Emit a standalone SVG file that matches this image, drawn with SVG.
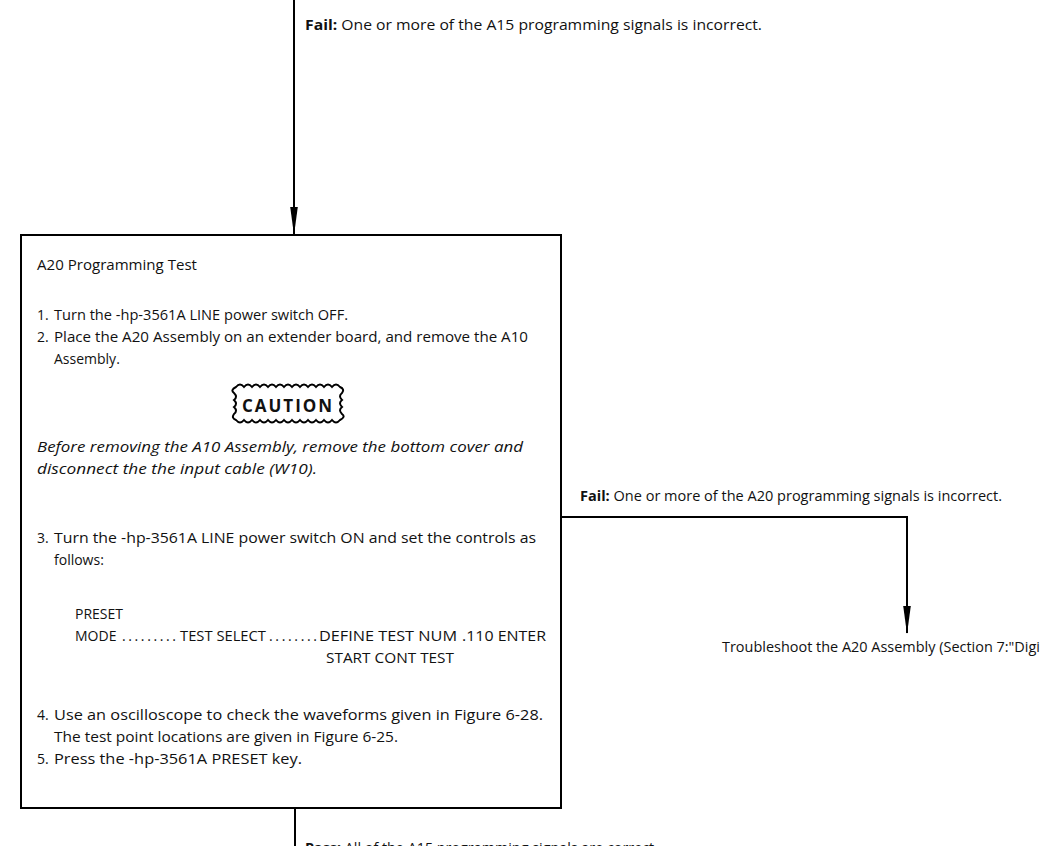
<svg xmlns="http://www.w3.org/2000/svg" width="1042" height="846" viewBox="0 0 1042 846">
<defs>
<marker id="arr" markerWidth="28" markerHeight="10" refX="27" refY="5" orient="auto" markerUnits="userSpaceOnUse" viewBox="0 0 28 10">
<path d="M0,1.2 L28,5 L0,8.8 Z" fill="#000"/>
</marker>
<style>
text{font-family:"Open Sans",Lato,"Liberation Sans",sans-serif;font-size:14px;fill:#111}
.b{font-weight:bold}
.i{font-style:italic}
.cau{font-weight:bold;font-size:17px;letter-spacing:2px}
.ln{fill:none;stroke:#000;stroke-width:2}
</style>
</defs>
<rect width="1042" height="846" fill="#fff"/>
<g id="connectors">
<path class="ln" d="M294,0 V234" marker-end="url(#arr)"/>
<path class="ln" d="M562,517 H907 V633" marker-end="url(#arr)"/>
<path class="ln" d="M295,808 V846"/>
</g>
<g id="label-fail-a15">
<text x="305" y="30" textLength="457" lengthAdjust="spacingAndGlyphs"><tspan class="b">Fail:</tspan> One or more of the A15 programming signals is incorrect.</text>
</g>
<g id="node-a20-test">
<rect x="21" y="235" width="540" height="573" fill="#fff" stroke="#000" stroke-width="2"/>
<text x="37" y="270" textLength="160" lengthAdjust="spacingAndGlyphs">A20 Programming Test</text>
<text x="37" y="320">1.</text><text x="54" y="320" textLength="294" lengthAdjust="spacingAndGlyphs">Turn the -hp-3561A LINE power switch OFF.</text>
<text x="37" y="342">2.</text><text x="54" y="342" textLength="474" lengthAdjust="spacingAndGlyphs">Place the A20 Assembly on an extender board, and remove the A10</text>
<text x="54" y="364">Assembly.</text>
<g id="caution">
<path class="ln" stroke-width="1.6" d="M236,387 q4,-5 8,0 q4,-5 8,0 q4,-5 8,0 q4,-5 8,0 q4,-5 8,0 q4,-5 8,0 q4,-5 8,0 q4,-5 8,0 q4,-5 8,0 q4,-5 8,0 q4,-5 8,0 q4,-5 8,0 q4,-5 8,0 q5,2 2,6 q-4,3 0,7 q-4,3 0,7 q-4,3 0,7 q4,3 -2,6 q-4,5 -8,0 q-4,5 -8,0 q-4,5 -8,0 q-4,5 -8,0 q-4,5 -8,0 q-4,5 -8,0 q-4,5 -8,0 q-4,5 -8,0 q-4,5 -8,0 q-4,5 -8,0 q-4,5 -8,0 q-4,5 -8,0 q-4,5 -8,0 q-5,-2 -2,-6 q4,-3 0,-7 q4,-3 0,-7 q4,-3 0,-7 q-4,-3 2,-6 Z"/>
<text x="288" y="412" class="cau" text-anchor="middle">CAUTION</text>
</g>
<text x="37" y="452" class="i" textLength="486" lengthAdjust="spacingAndGlyphs">Before removing the A10 Assembly, remove the bottom cover and</text>
<text x="37" y="474" class="i" textLength="280" lengthAdjust="spacingAndGlyphs">disconnect the the input cable (W10).</text>
<text x="37" y="543">3.</text><text x="54" y="543" textLength="482" lengthAdjust="spacingAndGlyphs">Turn the -hp-3561A LINE power switch ON and set the controls as</text>
<text x="54" y="565">follows:</text>
<text x="75" y="619">PRESET</text>
<text x="75" y="641">MODE</text>
<text x="122" y="641" textLength="54" lengthAdjust="spacing">.........</text>
<text x="180" y="641" textLength="86" lengthAdjust="spacingAndGlyphs">TEST SELECT</text>
<text x="269" y="641" textLength="48" lengthAdjust="spacing">........</text>
<text x="319" y="641" textLength="138" lengthAdjust="spacingAndGlyphs">DEFINE TEST NUM</text>
<text x="462" y="641" textLength="84" lengthAdjust="spacingAndGlyphs">.110 ENTER</text>
<text x="326" y="663" textLength="128" lengthAdjust="spacingAndGlyphs">START CONT TEST</text>
<text x="37" y="720">4.</text><text x="54" y="720" textLength="489" lengthAdjust="spacingAndGlyphs">Use an oscilloscope to check the waveforms given in Figure 6-28.</text>
<text x="54" y="742" textLength="344" lengthAdjust="spacingAndGlyphs">The test point locations are given in Figure 6-25.</text>
<text x="37" y="764">5.</text><text x="54" y="764" textLength="248" lengthAdjust="spacingAndGlyphs">Press the -hp-3561A PRESET key.</text>
</g>
<g id="label-fail-a20">
<text x="580" y="501" textLength="422" lengthAdjust="spacingAndGlyphs"><tspan class="b">Fail:</tspan> One or more of the A20 programming signals is incorrect.</text>
</g>
<g id="node-troubleshoot-a20">
<text x="722" y="652" textLength="318" lengthAdjust="spacingAndGlyphs">Troubleshoot the A20 Assembly (Section 7:"Digi</text>
</g>
<g id="label-pass">
<text x="305" y="853" textLength="353" lengthAdjust="spacingAndGlyphs"><tspan class="b">Pass:</tspan> All of the A15 programming signals are correct.</text>
</g>
</svg>
